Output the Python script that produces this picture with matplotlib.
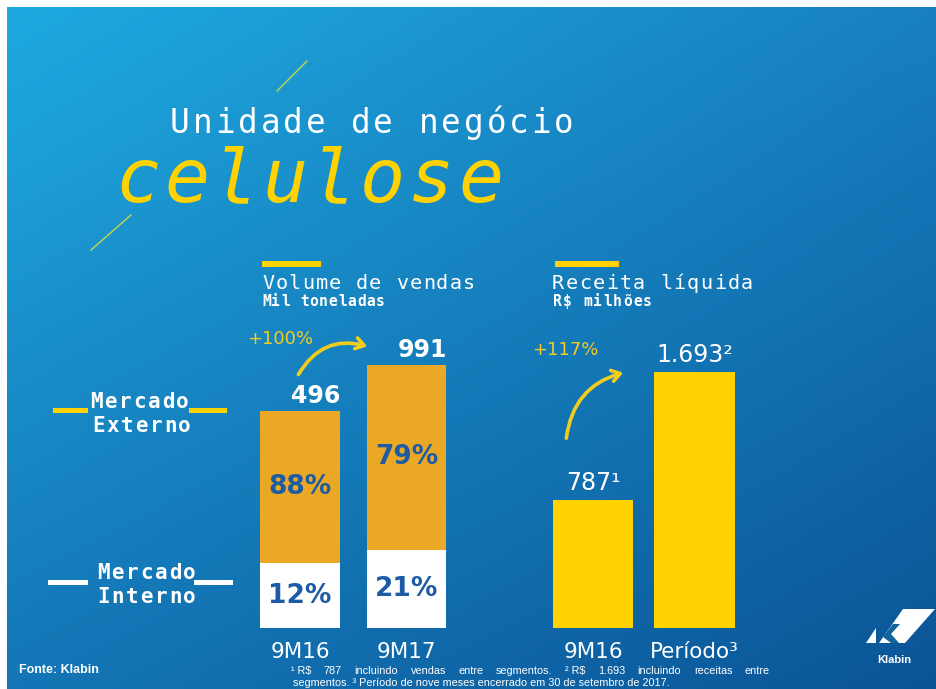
import numpy as np
import matplotlib
matplotlib.use("Agg")
import matplotlib.pyplot as plt
from matplotlib.patches import Rectangle, Polygon, FancyArrowPatch
from matplotlib.lines import Line2D

# ---------------- data ----------------
vol_categories = ["9M16", "9M17"]
vol_totals = [496, 991]                 # Mil toneladas
vol_share_interno = [12, 21]            # %
vol_share_externo = [88, 79]            # %
vol_growth = "+100%"

rev_categories = ["9M16", "Período³"]
rev_values = [787, 1693]                # R$ milhões
rev_value_labels = ["787¹", "1.693²"]
rev_growth = "+117%"

# ---------------- style ----------------
W, H, DPI = 937, 689, 100
ORANGE = "#eaa824"
YELLOW = "#ffd200"
TXT_YEL = "#f3cc1c"
PCT_BLUE = "#1d5ca4"
MONO = "DejaVu Sans Mono"
SANS = "DejaVu Sans"

fig = plt.figure(figsize=(W / DPI, H / DPI), dpi=DPI, facecolor="white")


def fx(x):
    return x / W


def fy(y):
    return 1 - y / H


# ---------------- background gradient ----------------
bg = fig.add_axes([fx(7), 0, 1 - fx(7), 1 - 7 / H], zorder=0)
bg.set_axis_off()
tl = np.array([30, 170, 224]) / 255
tr = np.array([24, 128, 192]) / 255
bl = np.array([20, 118, 182]) / 255
br = np.array([10, 84, 150]) / 255
gx = np.linspace(0, 1, 200)[None, :, None]
gy = np.linspace(0, 1, 150)[:, None, None]
img = (1 - gy) * ((1 - gx) * tl + gx * tr) + gy * ((1 - gx) * bl + gx * br)
bg.imshow(img, aspect="auto", extent=(0, 1, 0, 1), interpolation="bilinear")
bg.set_xlim(0, 1)
bg.set_ylim(0, 1)


def spaced(x, y, s, pitch, size, color, **kw):
    for i, ch in enumerate(s):
        fig.text(fx(x + i * pitch), fy(y), ch, fontsize=size, color=color,
                 family=MONO, ha="left", va="baseline", zorder=3, **kw)


def rect(x0, y0, x1, y1, color):
    fig.add_artist(Rectangle((fx(x0), fy(y1)), (x1 - x0) / W, (y1 - y0) / H,
                             transform=fig.transFigure, color=color, lw=0, zorder=2))


# ---------------- title ----------------
fig.add_artist(Line2D([fx(307), fx(277)], [fy(61), fy(91)], color="#c6d64a", lw=1.0,
                      transform=fig.transFigure, zorder=2))
fig.add_artist(Line2D([fx(131), fx(91)], [fy(215), fy(250)], color="#c6d64a", lw=1.0,
                      transform=fig.transFigure, zorder=2))
spaced(170, 133, "Unidade de negócio", 22.6, 23.5, "white")
spaced(115, 202, "celulose", 49, 54, YELLOW, style="oblique")

# ---------------- section headers ----------------
rect(262, 261, 321, 267, YELLOW)
rect(555, 261, 619, 267, YELLOW)
spaced(262, 289, "Volume de vendas", 13.4, 14.5, "white")
spaced(262, 306, "Mil toneladas", 9.5, 10.5, "white", weight="bold")
spaced(552, 289, "Receita líquida", 13.5, 14.5, "white")
spaced(553, 306, "R$ milhões", 10.0, 10.5, "white", weight="bold")

# ---------------- legend ----------------
rect(53, 408, 88, 413, YELLOW)
rect(189, 408, 227, 413, YELLOW)
spaced(90, 408, "Mercado", 14.4, 15, "white", weight="semibold")
spaced(92, 432, "Externo", 14.4, 15, "white", weight="semibold")
rect(48, 580, 88, 585, "white")
rect(194, 580, 233, 585, "white")
spaced(97, 579, "Mercado", 14.4, 15, "white", weight="semibold")
spaced(97, 603, "Interno", 14.4, 15, "white", weight="semibold")

# ---------------- volume chart ----------------
VOL_BASE = -1839          # visual baseline of the (non-zero based) infographic axis
VOL_PX = 46 / 495         # pixels per data unit
WHITE_FLOOR = -1203       # visual floor of the "interno" segment
AX_H = 300

ax1 = fig.add_axes([fx(246.75), fy(628), 213 / W, AX_H / H], zorder=2)
ax1.set_facecolor("none")
xv = np.arange(len(vol_categories))
tot = np.array(vol_totals, dtype=float)
sh_int = np.array(vol_share_interno) / 100
white_top = WHITE_FLOOR + sh_int * tot
ax1.bar(xv, white_top - VOL_BASE, bottom=VOL_BASE, width=0.75, color="white", lw=0)
ax1.bar(xv, tot - white_top, bottom=white_top, width=0.75, color=ORANGE, lw=0)
ax1.set_xlim(-0.5, 1.5)
ax1.set_ylim(VOL_BASE, VOL_BASE + AX_H / VOL_PX)
for i in range(len(xv)):
    ax1.text(xv[i], (VOL_BASE + white_top[i]) / 2, f"{vol_share_interno[i]}%",
             ha="center", va="center", color=PCT_BLUE, fontsize=19, weight="bold", family=SANS)
    ax1.text(xv[i], (white_top[i] + tot[i]) / 2, f"{vol_share_externo[i]}%",
             ha="center", va="center", color=PCT_BLUE, fontsize=19, weight="bold", family=SANS)
    ax1.annotate(f"{vol_totals[i]}", xy=(xv[i] + 0.15, tot[i]), xytext=(0, 6),
                 textcoords="offset points", ha="center", va="baseline",
                 color="white", fontsize=17, weight="bold", family=SANS, annotation_clip=False)

# ---------------- revenue chart ----------------
REV_BASE = -119
REV_PX = 128 / 906
ax2 = fig.add_axes([fx(542.25), fy(628), 203 / W, AX_H / H], zorder=2)
ax2.set_facecolor("none")
xr = np.arange(len(rev_categories))
ax2.bar(xr, np.array(rev_values) - REV_BASE, bottom=REV_BASE, width=0.79, color=YELLOW, lw=0)
ax2.set_xlim(-0.5, 1.5)
ax2.set_ylim(REV_BASE, REV_BASE + AX_H / REV_PX)
for i in range(len(xr)):
    ax2.annotate(rev_value_labels[i], xy=(xr[i], rev_values[i]), xytext=(0, 7),
                 textcoords="offset points", ha="center", va="baseline",
                 color="white", fontsize=17, family=SANS, annotation_clip=False)

for ax, cats in ((ax1, vol_categories), (ax2, rev_categories)):
    ax.set_xticks(range(len(cats)), cats)
    ax.tick_params(axis="x", length=0, pad=10, labelsize=15.5, labelcolor="white")
    ax.set_yticks([])
    for s in ax.spines.values():
        s.set_visible(False)

# ---------------- growth arrows ----------------
fig.text(fx(247), fy(344), vol_growth, color=TXT_YEL, fontsize=13, family=SANS, zorder=3)
fig.text(fx(532), fy(355), rev_growth, color=TXT_YEL, fontsize=13, family=SANS, zorder=3)
for a, b, r in (((297, 377), (370, 347), -0.4), ((566, 441), (626, 372), -0.35)):
    fig.add_artist(FancyArrowPatch((fx(a[0]), fy(a[1])), (fx(b[0]), fy(b[1])),
                                   transform=fig.transFigure, connectionstyle=f"arc3,rad={r}",
                                   arrowstyle="->,head_length=6,head_width=4",
                                   color=TXT_YEL, lw=2.6, mutation_scale=1, zorder=3))

# ---------------- footer ----------------
fig.text(fx(19), fy(673), "Fonte: Klabin", color="white", fontsize=9, weight="bold",
         family="Liberation Sans", zorder=3)

renderer = fig.canvas.get_renderer()


def justified(line, x0, x1, y, **kw):
    words = line.split(" ")
    texts = [fig.text(0, 0, w, **kw) for w in words]
    widths = [t.get_window_extent(renderer).width for t in texts]
    gap = (x1 - x0 - sum(widths)) / (len(words) - 1)
    x = x0
    for t, w in zip(texts, widths):
        t.set_position((fx(x), fy(y)))
        x += w + gap


fkw = dict(color="white", fontsize=7.8, family="Liberation Sans", zorder=3, va="baseline")
justified("¹\u00a0R$ 787 incluindo vendas entre segmentos. ²\u00a0R$ 1.693 incluindo receitas entre",
          291, 770, 674, **fkw)
fig.text(fx(293), fy(685.5), "segmentos. ³ Período de nove meses encerrado em 30 de setembro de 2017.",
         **fkw)

# ---------------- Klabin logo ----------------
logo_bg = "#12649f"
fig.add_artist(Polygon([(fx(866), fy(643)), (fx(876), fy(628)), (fx(876), fy(643))],
                       closed=True, transform=fig.transFigure, color="white", lw=0, zorder=2))
fig.add_artist(Polygon([(fx(903), fy(609)), (fx(935), fy(609)), (fx(905), fy(643)), (fx(879), fy(643))],
                       closed=True, transform=fig.transFigure, color="white", lw=0, zorder=2))
fig.add_artist(Polygon([(fx(883), fy(637)), (fx(893), fy(624)), (fx(900), fy(624)),
                        (fx(891), fy(634)), (fx(899), fy(643)), (fx(891), fy(643))],
                       closed=True, transform=fig.transFigure, color=logo_bg, lw=0, zorder=2.5))
fig.text(fx(894), fy(660), "Klabin", color="white", fontsize=8, weight="bold",
         family="Liberation Sans", ha="center", va="center", zorder=3)

fig.savefig("out.png", dpi=DPI, facecolor="white")
